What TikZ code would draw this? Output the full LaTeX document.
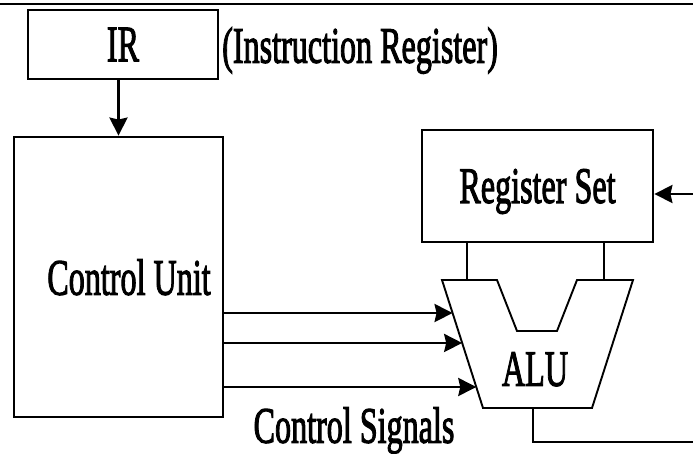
\documentclass[tikz,border=0pt]{standalone}
\usepackage{fontspec}
\setmainfont{Liberation Serif}
\newfontfamily\lblfont{Liberation Serif}[FakeBold=2.5]
\usetikzlibrary{arrows.meta,calc,positioning}
\newcommand{\sqz}[1]{\scalebox{0.63}[1]{#1}}

\begin{document}
\begin{tikzpicture}[x=1pt,y=-1pt,>={Stealth[length=18pt,width=18pt,inset=2pt]}]
  \tikzstyle{txt}=[font=\fontsize{51}{54}\lblfont,inner sep=0pt,text depth=0pt]
  \tikzstyle{box}=[draw,line width=2.8pt,inner sep=0pt,txt]
  \tikzstyle{wire}=[line width=2.8pt]
  \tikzstyle{bus}=[line width=1.9pt]
  \useasboundingbox (0,0) rectangle (693,454);

  \draw[line width=2pt] (0,4) -- (693,4);

  \node[box,minimum width=190pt,minimum height=69pt] (ir) at (123,44.5) {\sqz{IR}};
  \node[txt,anchor=west] (irlbl) at (222,45) {\sqz{(Instruction Register)}};

  \node[box,minimum width=209pt,minimum height=280pt] (cu) at (118.5,277) {};
  \node[txt] (cutxt) at (129,277) {\sqz{Control Unit}};

  \node[box,minimum width=231pt,minimum height=112pt] (reg) at (537.5,186) {\sqz{Register Set}};

  % ALU outline
  \coordinate (aTL) at (442,280);
  \coordinate (aTR) at (633,280);
  \coordinate (aBR) at (592,408);
  \coordinate (aBL) at (483,408);
  \draw[bus] (aTL) -- (497,280) -- (517,331) -- (557,331) -- (577,280) -- (aTR)
    -- (aBR) -- (aBL) -- cycle;
  \node[txt] (alu) at (535,369) {\sqz{ALU}};

  % register set to ALU
  \coordinate (pA) at (467,280);
  \coordinate (pB) at (604,280);
  \draw[bus] (reg.south -| pA) -- (pA);
  \draw[bus] (reg.south -| pB) -- (pB);

  \draw[wire,->] (ir.south -| cu.north) -- (cu.north);

  % control signals
  \coordinate (sA) at ($(aTL)!0.258!(aBL)$);
  \coordinate (sB) at ($(aTL)!0.492!(aBL)$);
  \coordinate (sC) at ($(aTL)!0.836!(aBL)$);
  \draw[wire,->] (cu.east |- sA) -- (sA);
  \draw[wire,->] (cu.east |- sB) -- (sB);
  \draw[wire,->] (cu.east |- sC) -- (sC);
  \node[txt] (sig) at (354,425) {\sqz{Control Signals}};

  % result back to the register set
  \coordinate (aOut) at (533,408);
  \coordinate (fbR) at (693,442);
  \coordinate (fbIn) at (693,194);
  \draw[wire] (aOut) -- (aOut |- fbR) -- (fbR);
  \draw[wire,->] (fbIn) -- (reg.east |- fbIn);
\end{tikzpicture}
\end{document}
